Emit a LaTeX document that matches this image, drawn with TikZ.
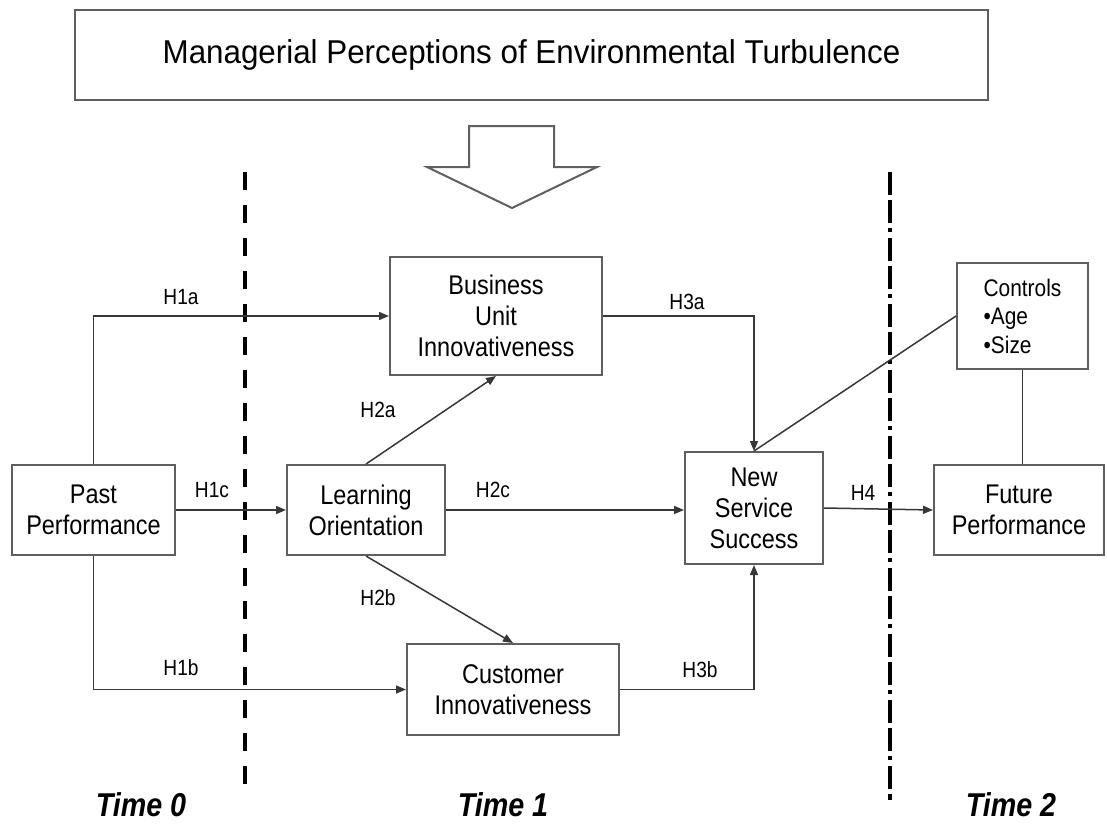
\documentclass[tikz,border=0pt]{standalone}
\usepackage{fontspec}
\setmainfont{Liberation Sans}[FakeStretch=0.87]
\newfontfamily\titlefont{Liberation Sans}[FakeStretch=0.95]
\usepackage{tikz}
\usetikzlibrary{arrows.meta, positioning, calc}
\definecolor{boxgray}{RGB}{95,95,95}
\definecolor{linegray}{RGB}{55,55,55}
\tikzset{
  box/.style={rectangle, draw=boxgray, fill=white, line width=2pt,
    align=center, inner sep=0pt, font=\fontsize{27}{31}\selectfont},
  ctrlbox/.style={rectangle, draw=boxgray, fill=white, line width=2pt,
    align=left, inner sep=0pt, font=\fontsize{24}{28.5}\selectfont},
  hyp/.style={inner sep=0pt, font=\fontsize{22}{25}\selectfont},
  timelbl/.style={inner sep=0pt, font=\fontsize{33}{36}\selectfont\bfseries\itshape},
  arrow/.style={-{Triangle[length=10pt,width=8pt]}, line width=1.5pt, color=linegray},
  line/.style={line width=1.5pt, color=linegray},
  phase/.style={line width=4.5pt, dash pattern=on 18pt off 15pt},
  phasedot/.style={line width=4.5pt, dash pattern=on 23pt off 5pt on 23pt off 5pt on 4pt off 6pt}
}

\begin{document}
\begin{tikzpicture}[x=1pt, y=-1pt]
  \useasboundingbox (0,0) rectangle (1107,827);

  % time boundaries
  \draw[phase] (245,172) -- (245,790);
  \draw[phasedot] (890,172) -- (890,800);

  % environment
  \node[box, minimum width=913pt, minimum height=90pt,
    font=\fontsize{33}{38}\titlefont] (title) at (531.5,55)
    {Managerial Perceptions of Environmental Turbulence};
  \draw[draw=boxgray, line width=2pt, fill=white, line join=miter]
    (469,126) -- (554,126) -- (554,167) -- (597,167) -- (512,208)
    -- (427,167) -- (469,167) -- cycle;

  % constructs
  \node[box, minimum width=163pt, minimum height=90pt] (past) at (93.5,510) {Past\\Performance};
  \node[box, minimum width=158pt, minimum height=90pt] (learn) at (366,510) {Learning\\Orientation};
  \node[box, minimum width=212pt, minimum height=118pt] (buinnov) at (496,316) {Business\\Unit\\Innovativeness};
  \node[box, minimum width=212pt, minimum height=91pt] (custinnov) at (513,689.5) {Customer\\Innovativeness};
  \node[box, minimum width=138pt, minimum height=112pt] (nss) at (754,508) {New\\Service\\Success};
  \node[box, minimum width=170pt, minimum height=90pt] (future) at (1019,510) {Future\\Performance};
  \node[ctrlbox, minimum width=131pt, minimum height=106pt] (controls) at (1022.5,316)
    {Controls\\\textbullet Age\\\textbullet Size};

  % paths
  \draw[arrow] (past.north) |- (buinnov.west);
  \draw[arrow] (past.east) -- (learn.west);
  \draw[arrow] (past.south) |- (custinnov.west);
  \draw[arrow] (learn.north) -- (buinnov.south);
  \draw[arrow] (learn.south) -- (custinnov.north);
  \draw[arrow] (learn.east) -- (learn.east -| nss.west);
  \draw[arrow] (buinnov.east) -| (nss.north);
  \draw[arrow] (custinnov.east) -| (nss.south);
  \draw[arrow] (nss.east) -- (future.west);
  \draw[line] (controls.west) -- (nss.north);
  \draw[line] (controls.south) -- (controls.south |- future.north);

  % hypotheses
  \node[hyp] (h1a) at (181,297) {H1a};
  \node[hyp] (h1c) at (212,490) {H1c};
  \node[hyp] (h1b) at (181,668) {H1b};
  \node[hyp] (h2a) at (378,410) {H2a};
  \node[hyp] (h2c) at (493,490) {H2c};
  \node[hyp] (h2b) at (378,598) {H2b};
  \node[hyp] (h3a) at (687,302) {H3a};
  \node[hyp] (h3b) at (700,670) {H3b};
  \node[hyp] (h4) at (863,493) {H4};

  % periods
  \node[timelbl] (t0) at (141,805) {Time 0};
  \node[timelbl] (t1) at (503,805) {Time 1};
  \node[timelbl] (t2) at (1011,805) {Time 2};
\end{tikzpicture}
\end{document}
